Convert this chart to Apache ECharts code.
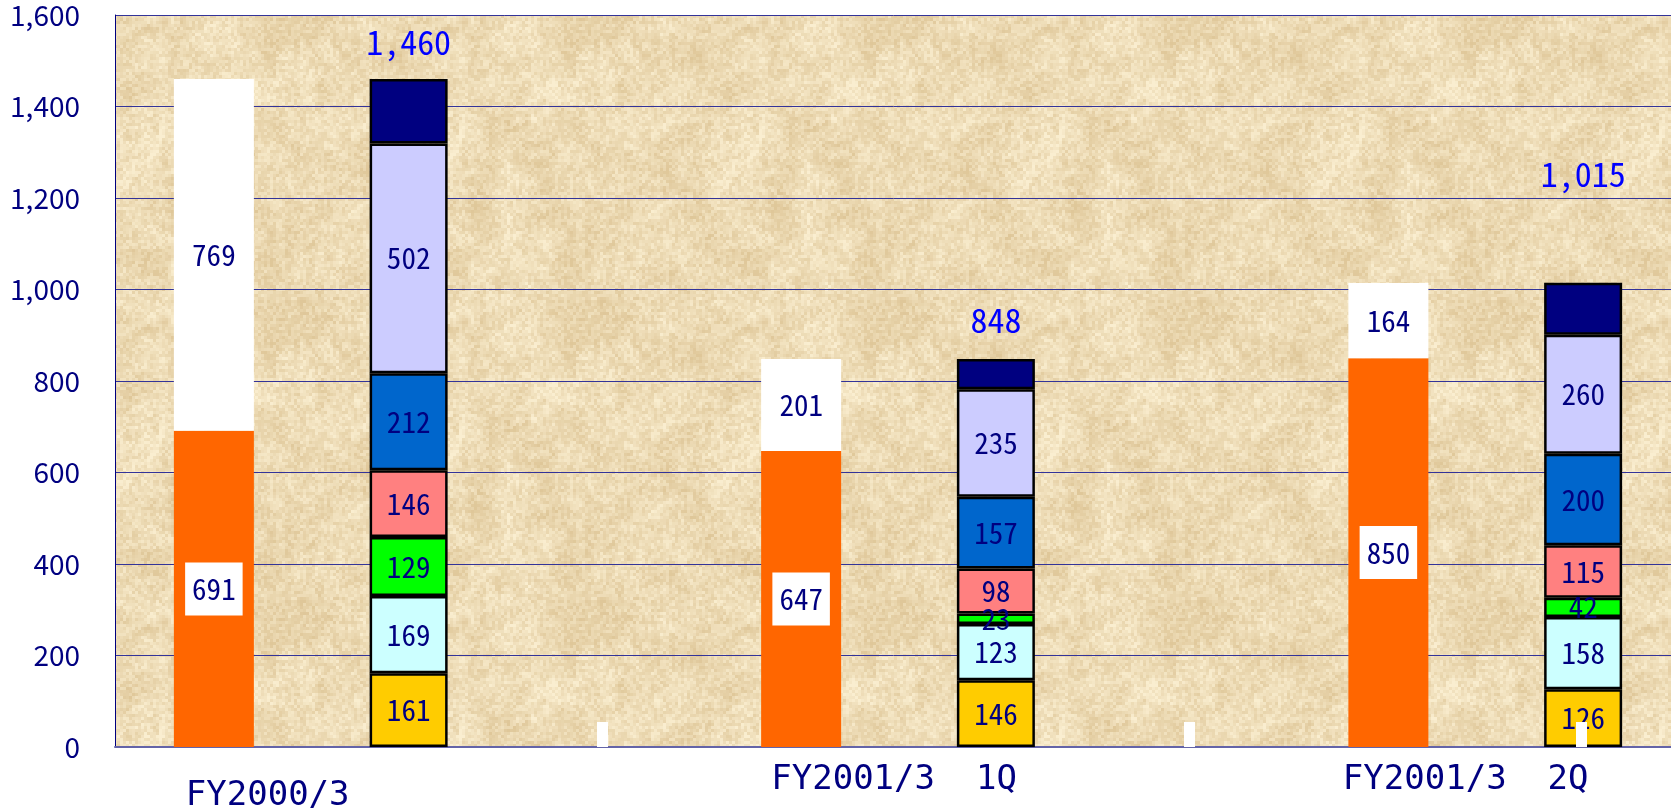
<!DOCTYPE html>
<html>
<head>
<meta charset="utf-8">
<title>FY2000/3 - FY2001/3 2Q</title>
<script src="https://cdn.jsdelivr.net/npm/echarts@6/dist/echarts.min.js"></script>
<style>
  html, body { margin: 0; padding: 0; background: #fff; }
  #chart { width: 1671px; height: 811px; }
</style>
</head>
<body>
<div id="chart"></div>
<script>
// values
const categories = ['FY2000/3', 'FY2001/3  1Q', 'FY2001/3  2Q'];
const yMin = 0, yMax = 1600, yStep = 200;

// left column of each period (orange + white on top)
const orangeValues = [691, 647, 850];
const whiteValues = [769, 201, 164];

// right column, stacked from the bottom up
const goldValues = [161, 146, 126];
const cyanValues = [169, 123, 158];
const greenValues = [129, 23, 42];
const salmonValues = [146, 98, 115];
const blueValues = [212, 157, 200];
const lavenderValues = [502, 235, 260];
const navyValues = [141, 66, 114];

// layout: 8 equal slots on the x axis, bars sit in slots 0/1, 3/4, 6/7
const SLOTS = 8;
const leftSlot = [0, 3, 6];
const rightSlot = [1, 4, 7];
const labelAt = [0.78, 3.98, 6.9];     // category label centres (slot units)
const whiteTickAt = [2.49, 5.49, 7.49]; // the little white marks on the base line
const totalLift = [20, 22, 92];         // gap between stack top and its total

const NAVY = '#000080';
const monoCJK = "'Noto Sans Mono CJK JP', 'DejaVu Sans Mono', monospace";

function slotData(values, slots) {
  const arr = new Array(SLOTS).fill('-');
  values.forEach((v, i) => { arr[slots[i]] = v; });
  return arr;
}

// parchment texture for the plot area
function makeParchment() {
  const cell = 3, n = 100, size = cell * n;
  const cv = document.createElement('canvas');
  cv.width = cv.height = size;
  const ctx = cv.getContext('2d');
  const hash = (x, y, s) => {
    let h = Math.imul(x, 374761393) ^ Math.imul(y, 668265263) ^ Math.imul(s, 1442695041);
    h = Math.imul(h ^ (h >>> 13), 1274126177);
    return ((h ^ (h >>> 16)) >>> 0) / 4294967296;
  };
  const smooth = t => t * t * (3 - 2 * t);
  const vnoise = (x, y, period, seed) => {
    const x0 = Math.floor(x), y0 = Math.floor(y);
    const fx = smooth(x - x0), fy = smooth(y - y0);
    const g = (i, j) => hash(((i % period) + period) % period, ((j % period) + period) % period, seed);
    const a = g(x0, y0), b = g(x0 + 1, y0), c = g(x0, y0 + 1), d = g(x0 + 1, y0 + 1);
    return (a * (1 - fx) + b * fx) * (1 - fy) + (c * (1 - fx) + d * fx) * fy;
  };
  for (let j = 0; j < n; j++) {
    for (let i = 0; i < n; i++) {
      const v = 0.3 * vnoise(i / 10, j / 10, 10, 1) + 0.3 * vnoise(i / 3, j / 3, 33.3334, 2) + 0.4 * hash(i, j, 3);
      const t = Math.min(1, Math.max(0, (v - 0.15) / 0.7));
      const r = Math.round(223 + (250 - 223) * t);
      const gg = Math.round(199 + (238 - 199) * t);
      const b = Math.round(153 + (208 - 153) * t);
      ctx.fillStyle = 'rgb(' + r + ',' + gg + ',' + b + ')';
      ctx.fillRect(i * cell, j * cell, cell, cell);
    }
  }
  return cv;
}

const chart = echarts.init(document.getElementById('chart'));

const insideLabel = {
  show: true,
  position: 'inside',
  color: NAVY,
  fontFamily: monoCJK,
  fontSize: 29
};

function stackSeries(name, values, color) {
  return {
    name: name,
    type: 'bar',
    stack: 'right',
    barWidth: 78,
    barGap: '-100%',
    itemStyle: { color: color, borderColor: '#000', borderWidth: 2.5 },
    label: insideLabel,
    data: slotData(values, rightSlot)
  };
}

const navyData = slotData(navyValues, rightSlot).map((v, k) => {
  const i = rightSlot.indexOf(k);
  if (i < 0) return v;
  return { value: v, label: { distance: totalLift[i] } };
});

const totalOf = i => goldValues[i] + cyanValues[i] + greenValues[i] + salmonValues[i] +
  blueValues[i] + lavenderValues[i] + navyValues[i];

const option = {
  backgroundColor: '#ffffff',
  animation: false,
  grid: {
    show: true,
    left: 115,
    right: -10,
    top: 15,
    bottom: 64,
    borderWidth: 0,
    backgroundColor: { image: makeParchment(), repeat: 'repeat' },
    outerBoundsMode: 'none'
  },
  xAxis: [
    {
      type: 'category',
      data: Array.from({ length: SLOTS }, (_, k) => 'slot' + k),
      axisLine: { show: true, lineStyle: { color: '#6464a8', width: 2 } },
      axisTick: { show: false },
      axisLabel: { show: false },
      splitLine: { show: false }
    },
    {
      type: 'value',
      position: 'bottom',
      min: 0,
      max: SLOTS,
      z: 10,
      axisLine: { show: false },
      splitLine: { show: false },
      axisTick: {
        show: true,
        inside: true,
        length: 25,
        customValues: whiteTickAt,
        lineStyle: { color: '#ffffff', width: 11 }
      },
      axisLabel: {
        show: true,
        customValues: labelAt,
        margin: 16,
        formatter: function (value) {
          const i = labelAt.indexOf(value);
          return i === 0 ? '{b|' + categories[i] + '}' : '{a|' + categories[i] + '}';
        },
        rich: {
          a: { fontFamily: "'DejaVu Sans Mono', monospace", fontSize: 34, color: NAVY },
          b: { fontFamily: "'DejaVu Sans Mono', monospace", fontSize: 34, color: NAVY, padding: [16, 0, 0, 0] }
        }
      }
    }
  ],
  yAxis: {
    type: 'value',
    min: yMin,
    max: yMax,
    interval: yStep,
    axisLine: { show: true, lineStyle: { color: NAVY, width: 1 } },
    axisTick: { show: false },
    axisLabel: {
      margin: 35,
      color: NAVY,
      fontFamily: "'Liberation Sans Narrow', 'Noto Sans CJK JP', sans-serif",
      fontSize: 28,
      formatter: v => v.toLocaleString('en-US')
    },
    splitLine: { show: true, lineStyle: { color: '#333399', width: 1 } }
  },
  series: [
    {
      name: 'orange',
      type: 'bar',
      stack: 'left',
      barWidth: 80,
      barGap: '-100%',
      itemStyle: { color: '#FF6600' },
      label: Object.assign({}, insideLabel, { backgroundColor: '#ffffff', padding: [13, 7, 11, 7] }),
      data: slotData(orangeValues, leftSlot)
    },
    {
      name: 'white',
      type: 'bar',
      stack: 'left',
      barWidth: 80,
      barGap: '-100%',
      itemStyle: { color: '#ffffff', borderColor: '#ffffff', borderWidth: 4 },
      label: insideLabel,
      data: slotData(whiteValues, leftSlot)
    },
    stackSeries('gold', goldValues, '#FFCC00'),
    stackSeries('cyan', cyanValues, '#CCFFFF'),
    stackSeries('green', greenValues, '#00FF00'),
    stackSeries('salmon', salmonValues, '#FF8080'),
    stackSeries('blue', blueValues, '#0066CC'),
    stackSeries('lavender', lavenderValues, '#CCCCFF'),
    {
      name: 'navy',
      type: 'bar',
      stack: 'right',
      barWidth: 78,
      barGap: '-100%',
      itemStyle: { color: NAVY, borderColor: '#000', borderWidth: 2.5 },
      label: {
        show: true,
        position: 'top',
        color: '#0000FF',
        fontFamily: monoCJK,
        fontSize: 34,
        formatter: p => totalOf(rightSlot.indexOf(p.dataIndex)).toLocaleString('en-US')
      },
      data: navyData
    }
  ]
};

chart.setOption(option);
window.addEventListener('resize', () => chart.resize());
</script>
</body>
</html>
